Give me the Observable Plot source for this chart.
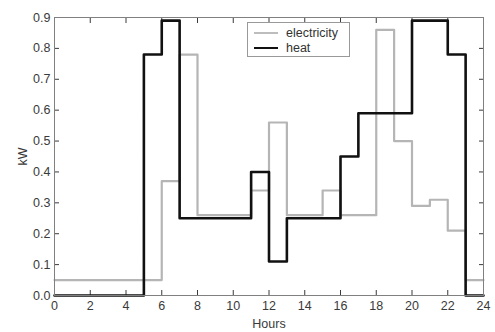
<!DOCTYPE html>
<html>
<head>
<meta charset="utf-8">
<script src="https://cdn.jsdelivr.net/npm/d3@7"></script>
<script src="https://cdn.jsdelivr.net/npm/@observablehq/plot@0.6"></script>
<style>
  body { margin: 0; background: #fff; }
  #chart { position: relative; width: 495px; height: 332px; font-family: "Liberation Sans", Arial, sans-serif; }
  .legend {
    position: absolute; left: 247px; top: 22px; width: 103px; height: 35px;
    box-sizing: border-box; border: 1px solid #999; background: #fff;
    font-size: 12.5px; color: #333;
  }
  .legend .row { position: absolute; left: 6px; height: 14px; display: flex; align-items: center; }
  .legend .sw { width: 24px; margin-right: 8px; }
</style>
</head>
<body>
<div id="chart"></div>
<script>
// Hourly profile of one day: hour starts and demand in kW for each hour
const hours = d3.range(0, 24);
const electricity = [0.05, 0.05, 0.05, 0.05, 0.05, 0.05, 0.37, 0.78, 0.26, 0.26, 0.26, 0.34,
                     0.56, 0.26, 0.26, 0.34, 0.26, 0.26, 0.86, 0.50, 0.29, 0.31, 0.21, 0.05];
const heat = [0, 0, 0, 0, 0, 0.78, 0.89, 0.25, 0.25, 0.25, 0.25, 0.40,
              0.11, 0.25, 0.25, 0.25, 0.45, 0.59, 0.59, 0.59, 0.89, 0.89, 0.78, 0];
const xTicks = d3.range(0, 25, 2);
const yTicks = d3.range(0, 10).map(i => i / 10);

// Step series: each value holds from its hour to the next; the last one closes at 24
const steps = (values) => hours.map((h, i) => ({hour: h, kW: values[i]}))
  .concat([{hour: 24, kW: values[values.length - 1]}]);

const chart = Plot.plot({
  width: 495,
  height: 332,
  marginLeft: 54,
  marginRight: 12,
  marginTop: 17,
  marginBottom: 37,
  style: {fontFamily: "Liberation Sans, Arial, sans-serif", fontSize: "12.5px", color: "#3a3a3a", background: "#fff"},
  x: {domain: [0, 24]},
  y: {domain: [0, 0.9]},
  marks: [
    Plot.axisX({ticks: xTicks, tickSize: -5, tickPadding: 11, label: "Hours", labelAnchor: "center", labelArrow: "none", labelOffset: 32}),
    Plot.axisX({anchor: "top", ticks: xTicks, tickSize: -5, tickFormat: () => "", label: null}),
    Plot.axisY({ticks: yTicks, tickSize: -5, tickPadding: 9, label: "kW", labelAnchor: "center", labelArrow: "none", labelOffset: 36}),
    Plot.axisY({anchor: "right", ticks: yTicks, tickSize: -5, tickFormat: () => "", label: null}),
    Plot.lineY(steps(electricity), {x: "hour", y: "kW", curve: "step-after", stroke: "#b5b5b5", strokeWidth: 2.2}),
    Plot.lineY(steps(heat), {x: "hour", y: "kW", curve: "step-after", stroke: "#111", strokeWidth: 2.6}),
    Plot.frame({stroke: "#808080"})
  ]
});

const root = document.getElementById("chart");
root.appendChild(chart);

// Legend box inside the plot area
const legend = document.createElement("div");
legend.className = "legend";
legend.innerHTML =
  '<div class="row" style="top:3px"><span class="sw" style="border-top:2.2px solid #bdbdbd"></span>electricity</div>' +
  '<div class="row" style="top:18px"><span class="sw" style="border-top:2.6px solid #111"></span>heat</div>';
root.appendChild(legend);
</script>
</body>
</html>
